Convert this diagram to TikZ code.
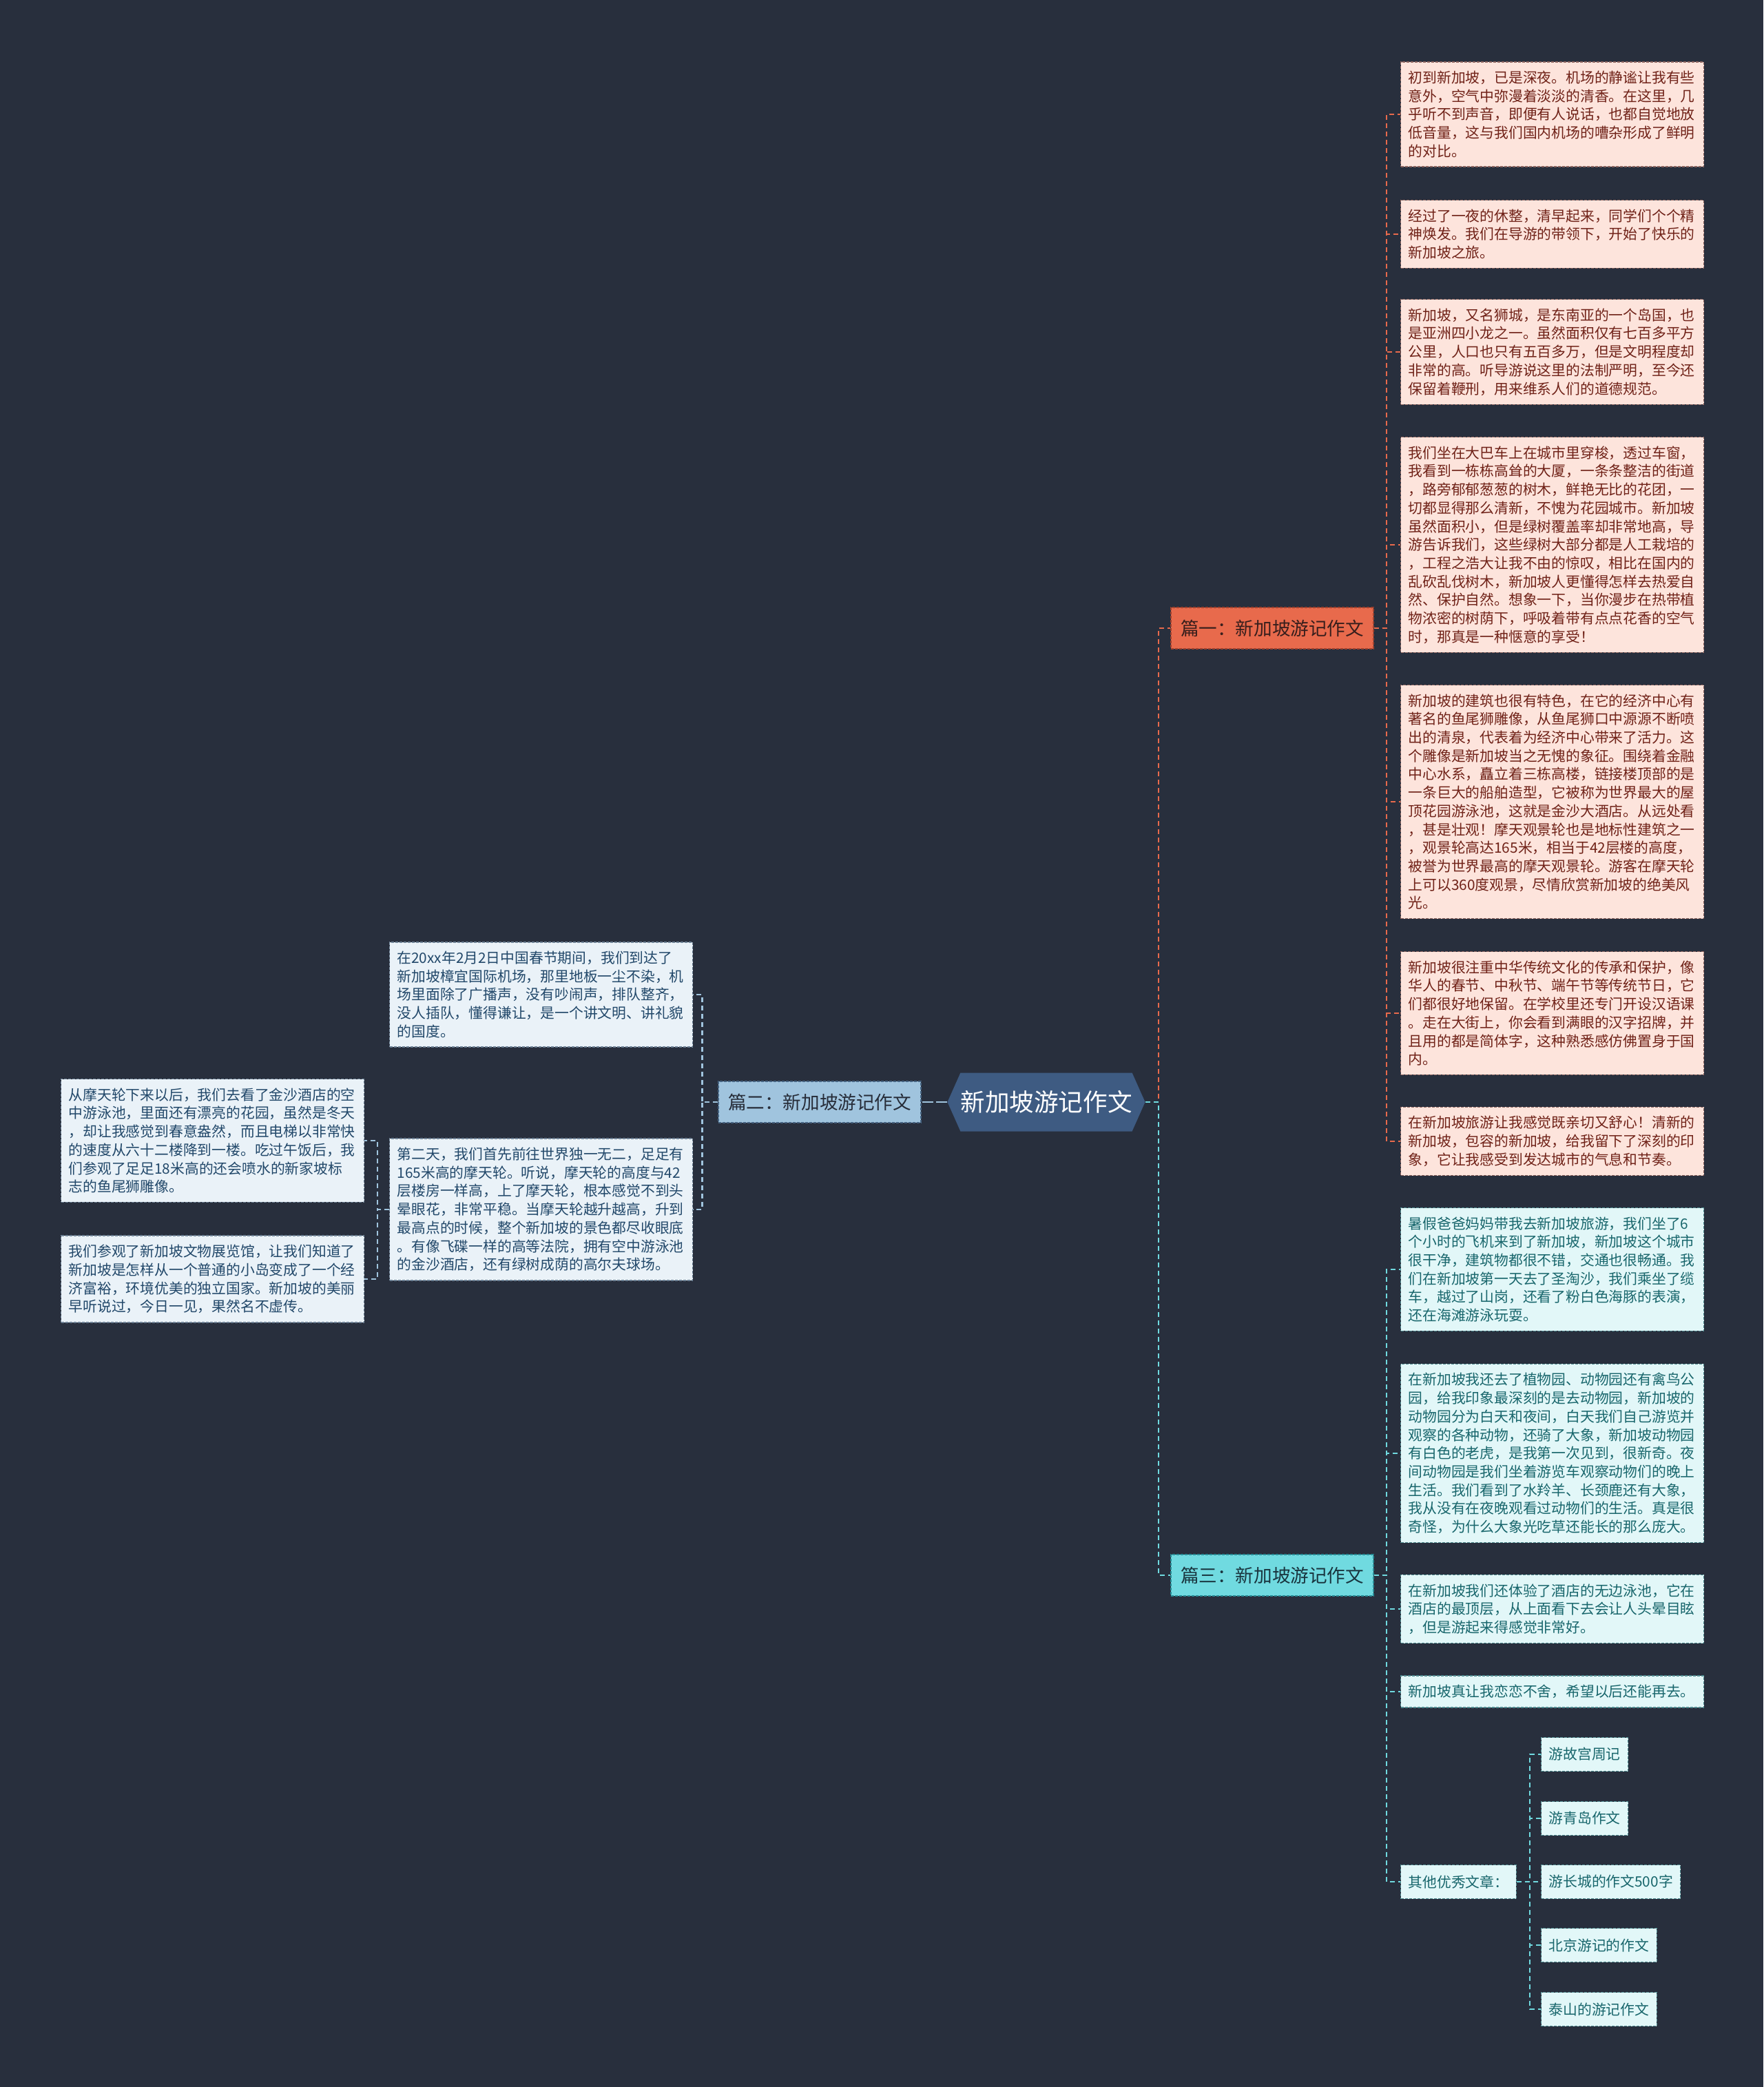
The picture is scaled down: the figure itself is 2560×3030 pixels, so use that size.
\documentclass[tikz,border=0pt]{standalone}
\usepackage{fontspec}
\setmainfont{Noto Sans CJK SC}
\usetikzlibrary{shapes.symbols}

\definecolor{bgnavy}{RGB}{40,47,61}
\definecolor{hubblue}{RGB}{62,91,130}
\definecolor{partone}{RGB}{232,106,76}
\definecolor{partoneedge}{RGB}{160,66,46}
\definecolor{parttwo}{RGB}{160,196,222}
\definecolor{parttwoedge}{RGB}{70,100,130}
\definecolor{partthree}{RGB}{112,218,224}
\definecolor{partthreeedge}{RGB}{40,140,150}
\definecolor{pinkfill}{RGB}{253,228,220}
\definecolor{pinkedge}{RGB}{140,100,95}
\definecolor{pinktext}{RGB}{112,34,24}
\definecolor{skyfill}{RGB}{234,242,248}
\definecolor{skyedge}{RGB}{110,130,150}
\definecolor{skytext}{RGB}{34,72,106}
\definecolor{aquafill}{RGB}{226,247,248}
\definecolor{aquaedge}{RGB}{80,140,145}
\definecolor{aquatext}{RGB}{24,102,108}

\begin{document}
\begin{tikzpicture}[x=0.5pt,y=-0.5pt,
    hub/.style={signal, signal to=west and east, signal pointer angle=132, fill=hubblue,
      text=white, minimum width=143pt, minimum height=42.5pt, inner sep=0pt,
      font=\fontsize{17.8}{20}\selectfont},
    part/.style={rectangle, draw, dash pattern=on 2pt off 1pt, line width=0.6pt,
      minimum width=147pt, minimum height=30pt, inner sep=0pt,
      font=\fontsize{13.3}{16}\selectfont},
    essay/.style={rectangle, draw, dash pattern=on 2pt off 1pt, line width=0.6pt,
      anchor=west, align=left, text width=209pt, inner xsep=5.5pt, inner ysep=6.5pt,
      font=\fontsize{10.4}{13.35}\selectfont},
    tag/.style={rectangle, draw, dash pattern=on 2pt off 1pt, line width=0.6pt,
      anchor=west, inner xsep=5.5pt, inner ysep=0pt, minimum height=24.5pt,
      font=\fontsize{10.4}{13.35}\selectfont},
    pink/.style={fill=pinkfill, draw=pinkedge, text=pinktext},
    sky/.style={fill=skyfill, draw=skyedge, text=skytext},
    aqua/.style={fill=aquafill, draw=aquaedge, text=aquatext},
    link/.style={dash pattern=on 3.5pt off 2.5pt, line width=1.1pt},
  ]

  \useasboundingbox (0,0) rectangle (2560,3030);
  \fill[bgnavy] (0,0) rectangle (2560,3030);

  % centre and the three parts
  \node[hub] (hub) at (1519,1600) {新加坡游记作文};
  \node[part, fill=partone, draw=partoneedge, text={rgb,255:red,55;green,30;blue,28}] (p1) at (1847,912) {篇一：新加坡游记作文};
  \node[part, fill=parttwo, draw=parttwoedge, text={rgb,255:red,38;green,44;blue,56}] (p2) at (1190,1600) {篇二：新加坡游记作文};
  \node[part, fill=partthree, draw=partthreeedge, text={rgb,255:red,25;green,52;blue,62}] (p3) at (1847,2287) {篇三：新加坡游记作文};

  % part one
  \node[essay, pink] (a1) at (2033,166) {初到新加坡，已是深夜。机场的静谧让我有些\\意外，空气中弥漫着淡淡的清香。在这里，几\\乎听不到声音，即便有人说话，也都自觉地放\\低音量，这与我们国内机场的嘈杂形成了鲜明\\的对比。};
  \node[essay, pink] (a2) at (2033,340) {经过了一夜的休整，清早起来，同学们个个精\\神焕发。我们在导游的带领下，开始了快乐的\\新加坡之旅。};
  \node[essay, pink] (a3) at (2033,511) {新加坡，又名狮城，是东南亚的一个岛国，也\\是亚洲四小龙之一。虽然面积仅有七百多平方\\公里，人口也只有五百多万，但是文明程度却\\非常的高。听导游说这里的法制严明，至今还\\保留着鞭刑，用来维系人们的道德规范。};
  \node[essay, pink] (a4) at (2033,791) {我们坐在大巴车上在城市里穿梭，透过车窗，\\我看到一栋栋高耸的大厦，一条条整洁的街道\\，路旁郁郁葱葱的树木，鲜艳无比的花团，一\\切都显得那么清新，不愧为花园城市。新加坡\\虽然面积小，但是绿树覆盖率却非常地高，导\\游告诉我们，这些绿树大部分都是人工栽培的\\，工程之浩大让我不由的惊叹，相比在国内的\\乱砍乱伐树木，新加坡人更懂得怎样去热爱自\\然、保护自然。想象一下，当你漫步在热带植\\物浓密的树荫下，呼吸着带有点点花香的空气\\时，那真是一种惬意的享受！};
  \node[essay, pink] (a5) at (2033,1164) {新加坡的建筑也很有特色，在它的经济中心有\\著名的鱼尾狮雕像，从鱼尾狮口中源源不断喷\\出的清泉，代表着为经济中心带来了活力。这\\个雕像是新加坡当之无愧的象征。围绕着金融\\中心水系，矗立着三栋高楼，链接楼顶部的是\\一条巨大的船舶造型，它被称为世界最大的屋\\顶花园游泳池，这就是金沙大酒店。从远处看\\，甚是壮观！摩天观景轮也是地标性建筑之一\\，观景轮高达165米，相当于42层楼的高度，\\被誉为世界最高的摩天观景轮。游客在摩天轮\\上可以360度观景，尽情欣赏新加坡的绝美风\\光。};
  \node[essay, pink] (a6) at (2033,1471) {新加坡很注重中华传统文化的传承和保护，像\\华人的春节、中秋节、端午节等传统节日，它\\们都很好地保留。在学校里还专门开设汉语课\\。走在大街上，你会看到满眼的汉字招牌，并\\且用的都是简体字，这种熟悉感仿佛置身于国\\内。};
  \node[essay, pink] (a7) at (2033,1657) {在新加坡旅游让我感觉既亲切又舒心！清新的\\新加坡，包容的新加坡，给我留下了深刻的印\\象，它让我感受到发达城市的气息和节奏。};

  % part three
  \node[essay, aqua] (b1) at (2033,1843) {暑假爸爸妈妈带我去新加坡旅游，我们坐了6\\个小时的飞机来到了新加坡，新加坡这个城市\\很干净，建筑物都很不错，交通也很畅通。我\\们在新加坡第一天去了圣淘沙，我们乘坐了缆\\车，越过了山岗，还看了粉白色海豚的表演，\\还在海滩游泳玩耍。};
  \node[essay, aqua] (b2) at (2033,2110) {在新加坡我还去了植物园、动物园还有禽鸟公\\园，给我印象最深刻的是去动物园，新加坡的\\动物园分为白天和夜间，白天我们自己游览并\\观察的各种动物，还骑了大象，新加坡动物园\\有白色的老虎，是我第一次见到，很新奇。夜\\间动物园是我们坐着游览车观察动物们的晚上\\生活。我们看到了水羚羊、长颈鹿还有大象，\\我从没有在夜晚观看过动物们的生活。真是很\\奇怪，为什么大象光吃草还能长的那么庞大。};
  \node[essay, aqua] (b3) at (2033,2336) {在新加坡我们还体验了酒店的无边泳池，它在\\酒店的最顶层，从上面看下去会让人头晕目眩\\，但是游起来得感觉非常好。};
  \node[essay, aqua] (b4) at (2033,2456) {新加坡真让我恋恋不舍，希望以后还能再去。};
  \node[tag, aqua] (oth) at (2033,2732) {其他优秀文章：};
  \node[tag, aqua] (c1) at (2237,2547) {游故宫周记};
  \node[tag, aqua] (c2) at (2237,2640) {游青岛作文};
  \node[tag, aqua] (c3) at (2237,2732) {游长城的作文500字};
  \node[tag, aqua] (c4) at (2237,2824) {北京游记的作文};
  \node[tag, aqua] (c5) at (2237,2917) {泰山的游记作文};

  % part two
  \node[essay, sky] (l1) at (565,1444) {在20xx年2月2日中国春节期间，我们到达了\\新加坡樟宜国际机场，那里地板一尘不染，机\\场里面除了广播声，没有吵闹声，排队整齐，\\没人插队，懂得谦让，是一个讲文明、讲礼貌\\的国度。};
  \node[essay, sky] (l2) at (565,1756) {第二天，我们首先前往世界独一无二，足足有\\165米高的摩天轮。听说，摩天轮的高度与42\\层楼房一样高，上了摩天轮，根本感觉不到头\\晕眼花，非常平稳。当摩天轮越升越高，升到\\最高点的时候，整个新加坡的景色都尽收眼底\\。有像飞碟一样的高等法院，拥有空中游泳池\\的金沙酒店，还有绿树成荫的高尔夫球场。};
  \node[essay, sky] (m1) at (88,1656) {从摩天轮下来以后，我们去看了金沙酒店的空\\中游泳池，里面还有漂亮的花园，虽然是冬天\\，却让我感觉到春意盎然，而且电梯以非常快\\的速度从六十二楼降到一楼。吃过午饭后，我\\们参观了足足18米高的还会喷水的新家坡标\\志的鱼尾狮雕像。};
  \node[essay, sky] (m2) at (88,1857) {我们参观了新加坡文物展览馆，让我们知道了\\新加坡是怎样从一个普通的小岛变成了一个经\\济富裕，环境优美的独立国家。新加坡的美丽\\早听说过，今日一见，果然名不虚传。};

  % links
  \draw[link, partone] (hub.east) -- ++(19,0) |- (p1.west);
  \draw[link, partthree] (hub.east) -- ++(19,0) |- (p3.west);
  \draw[link, parttwo, dash pattern=on 8pt off 2pt] (hub.west) -- (p2.east);

  \foreach \i in {1,...,7}
    \draw[link, partone] (p1.east) -- ++(18,0) |- (a\i.west);
  \foreach \n in {b1,b2,b3,b4,oth}
    \draw[link, partthree] (p3.east) -- ++(18,0) |- (\n.west);
  \foreach \i in {1,...,5}
    \draw[link, partthree] (oth.east) -- ++(19,0) |- (c\i.west);
  \foreach \i in {1,2}
    \draw[link, parttwo] (p2.west) -- ++(-23,0) |- (l\i.east);
  \foreach \i in {1,2}
    \draw[link, parttwo] (l2.west) -- ++(-17,0) |- (m\i.east);

\end{tikzpicture}
\end{document}
